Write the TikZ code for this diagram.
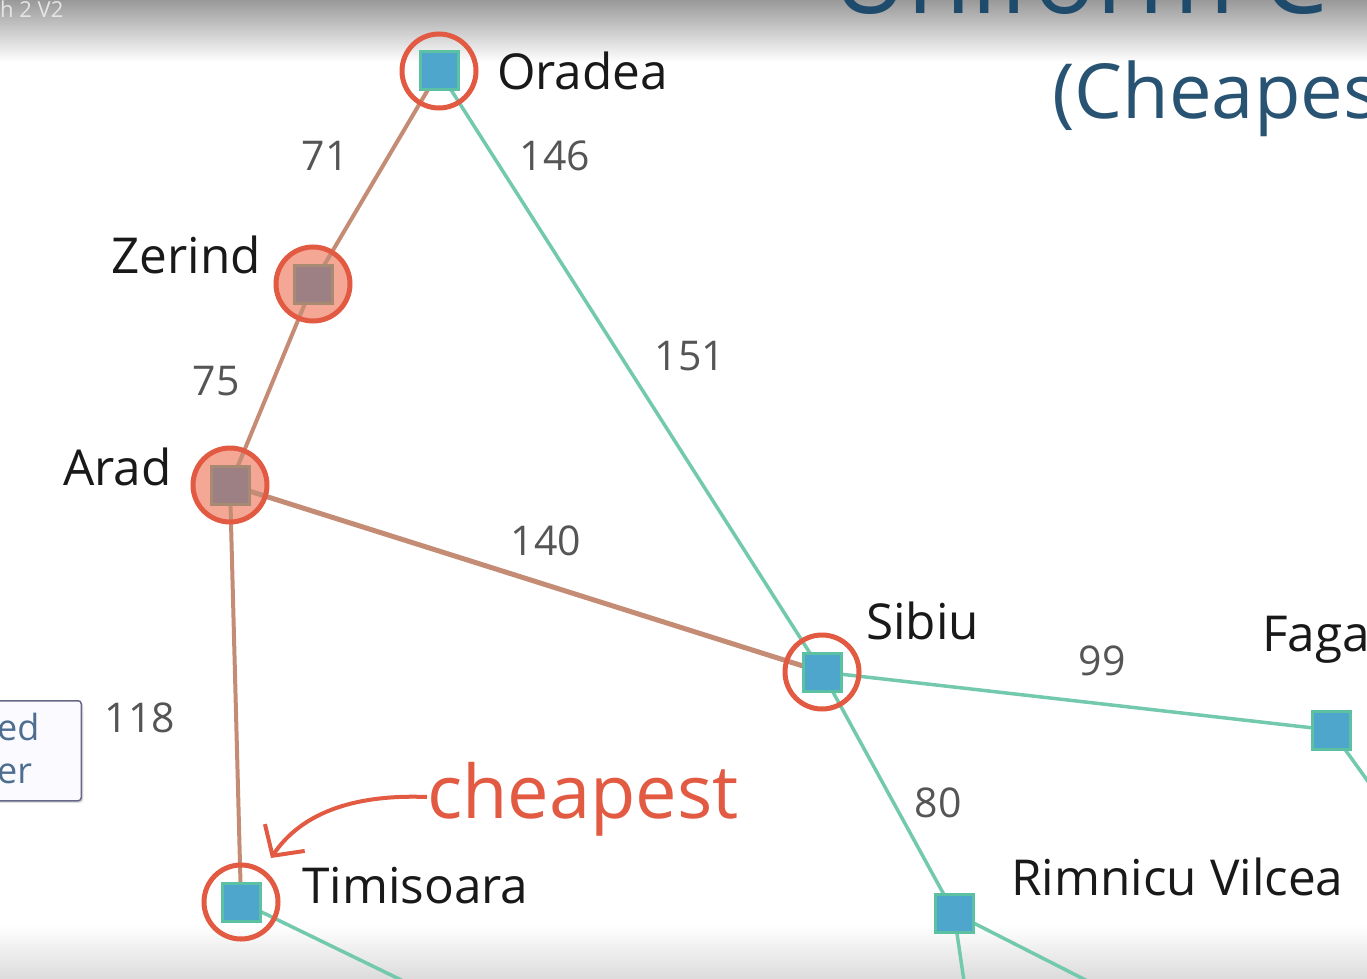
\documentclass[tikz,border=0pt]{standalone}
\usepackage{fontspec}
\setmainfont{Open Sans}
\usetikzlibrary{arrows.meta,backgrounds,shadows}
\pgfdeclarelayer{deepest}
\pgfsetlayers{deepest,background,main}
\definecolor{sqfill}{HTML}{4FA6CC}
\definecolor{sqedge}{HTML}{5CC0A2}
\definecolor{brfill}{HTML}{9C8084}
\definecolor{bredge}{HTML}{A88A72}
\definecolor{ringc}{HTML}{E25A42}
\definecolor{ringfill}{HTML}{F5A796}
\definecolor{teal}{HTML}{72C9AE}
\definecolor{brown}{HTML}{C48C74}
\definecolor{numc}{HTML}{555555}
\definecolor{titlec}{HTML}{1E4A6C}
\definecolor{boxtext}{HTML}{4E6E90}
\tikzset{
  city/.style={rectangle,minimum size=38pt,inner sep=0pt,fill=sqfill,draw=sqedge,line width=3pt},
  visited/.style={rectangle,minimum size=38pt,inner sep=0pt,fill=brfill,draw=bredge,line width=3pt},
  ring/.style={circle,minimum size=74pt,inner sep=0pt,draw=ringc,line width=5pt},
  ringbg/.style={circle,minimum size=74pt,inner sep=0pt,fill=ringfill},
  lbl/.style={font=\fontsize{49.5}{55}\selectfont,text=black!90,inner sep=0pt},
  num/.style={font=\fontsize{41}{46}\selectfont,text=numc,inner sep=0pt},
  tedge/.style={draw=teal,line width=3.5pt},
  bedge/.style={draw=brown,line width=4pt},
}
\begin{document}
\begin{tikzpicture}[x=1pt,y=-1pt]
\useasboundingbox (0,0) rectangle (1367,979);
\clip (0,0) rectangle (1367,979);
\begin{pgfonlayer}{deepest}
\fill[white] (0,0) rectangle (1367,979);
\shade[top color=black!40,bottom color=white] (0,0) rectangle (1367,62);
\shade[top color=white,bottom color=black!14] (0,925) rectangle (1367,979);
\end{pgfonlayer}
\node[anchor=base west,inner sep=0pt,text=white!90!black,font=\fontsize{22}{26}\selectfont] (hdr) at (0,18) {h 2 V2};
\node[anchor=base west,inner sep=0pt,text=titlec,font=\fontsize{104}{110}\selectfont] (title) at (832,14) {Uniform C};
\node[anchor=base west,inner sep=0pt,text=titlec!95!white,font=\fontsize{76}{84}\selectfont] (sub) at (1052,119) {(Cheapes};
% cities
\node[city] (oradea) at (439,71) {};
\node[visited] (zerind) at (313,284) {};
\node[visited] (arad) at (230,485) {};
\node[city] (sibiu) at (822,672) {};
\node[city] (fagaras) at (1331,730) {};
\node[city] (timisoara) at (241,902) {};
\node[city] (rimnicu) at (954,913) {};
\coordinate (tOff) at (430,994);
\coordinate (rOff1) at (966,995);
\coordinate (rOff2) at (1115,995);
\coordinate (fOff) at (1385,805);
\begin{pgfonlayer}{background}
  \node[ringbg] (zbg) at (zerind) {};
  \node[ringbg] (abg) at (arad) {};
  \draw[bedge] (oradea.center) -- (zerind.center);
  \draw[bedge] (zerind.center) -- (arad.center);
  \draw[bedge,line width=5pt] (arad.center) -- (sibiu.center);
  \draw[bedge] (arad.center) -- (timisoara.center);
  \draw[tedge] (oradea.center) -- (sibiu.center);
  \draw[tedge] (sibiu.center) -- (fagaras.center);
  \draw[tedge] (sibiu.center) -- (rimnicu.center);
  \draw[tedge] (timisoara.center) -- (tOff);
  \draw[tedge] (rimnicu.center) -- (rOff1);
  \draw[tedge] (rimnicu.center) -- (rOff2);
  \draw[tedge] (fagaras.center) -- (fOff);
\end{pgfonlayer}
% rings
\node[ring] (oring) at (oradea) {};
\node[ring] (zring) at (zerind) {};
\node[ring] (aring) at (arad) {};
\node[ring] (sring) at (sibiu) {};
\node[ring] (tring) at (timisoara) {};
% labels
\node[lbl,anchor=base west] (lo) at (497,90) {Oradea};
\node[lbl,anchor=base east] (lz) at (261,273) {Zerind};
\node[lbl,anchor=base east] (la) at (172,485) {Arad};
\node[lbl,anchor=base west] (ls) at (866,639) {Sibiu};
\node[lbl,anchor=base west] (lf) at (1262,651) {Faga};
\node[lbl,anchor=base west] (lt) at (302,903) {Timisoara};
\node[lbl,anchor=base west] (lr) at (1011,895) {Rimnicu Vilcea};
% costs
\node[num] (n71) at (325,156) {71};
\node[num] (n146) at (555,156) {146};
\node[num] (n151) at (690,356) {151};
\node[num] (n75) at (216,381) {75};
\node[num] (n140) at (546,541) {140};
\node[num] (n118) at (140,718) {118};
\node[num] (n99) at (1102,661) {99};
\node[num] (n80) at (938,803) {80};
% cheapest annotation
\node[anchor=base west,inner sep=0pt,text=ringc,font=\fontsize{74}{80}\selectfont] (cheap) at (427,818) {cheapest};
\coordinate (tip) at (271,858);
\draw[ringc,line width=4pt,-{Straight Barb[length=22pt,width=48pt,line width=4pt]}]
  (cheap.west|-0,797) .. controls (350,794) and (300,815) .. (tip);
% partial side box
\node[draw=black!35!blue!20!gray,fill=black!3!blue!2!white,rounded corners=3pt,line width=1.5pt,
  minimum width=100pt,minimum height=100pt,anchor=north east,drop shadow={opacity=0.25,shadow xshift=2pt,shadow yshift=-2pt}] (box) at (82,700) {};
\node[anchor=base west,inner sep=0pt,text=boxtext,font=\fontsize{36}{40}\selectfont] (b1) at (-3,740) {ed};
\node[anchor=base west,inner sep=0pt,text=boxtext,font=\fontsize{36}{40}\selectfont] (b2) at (-3,783) {er};
\end{tikzpicture}
\end{document}
